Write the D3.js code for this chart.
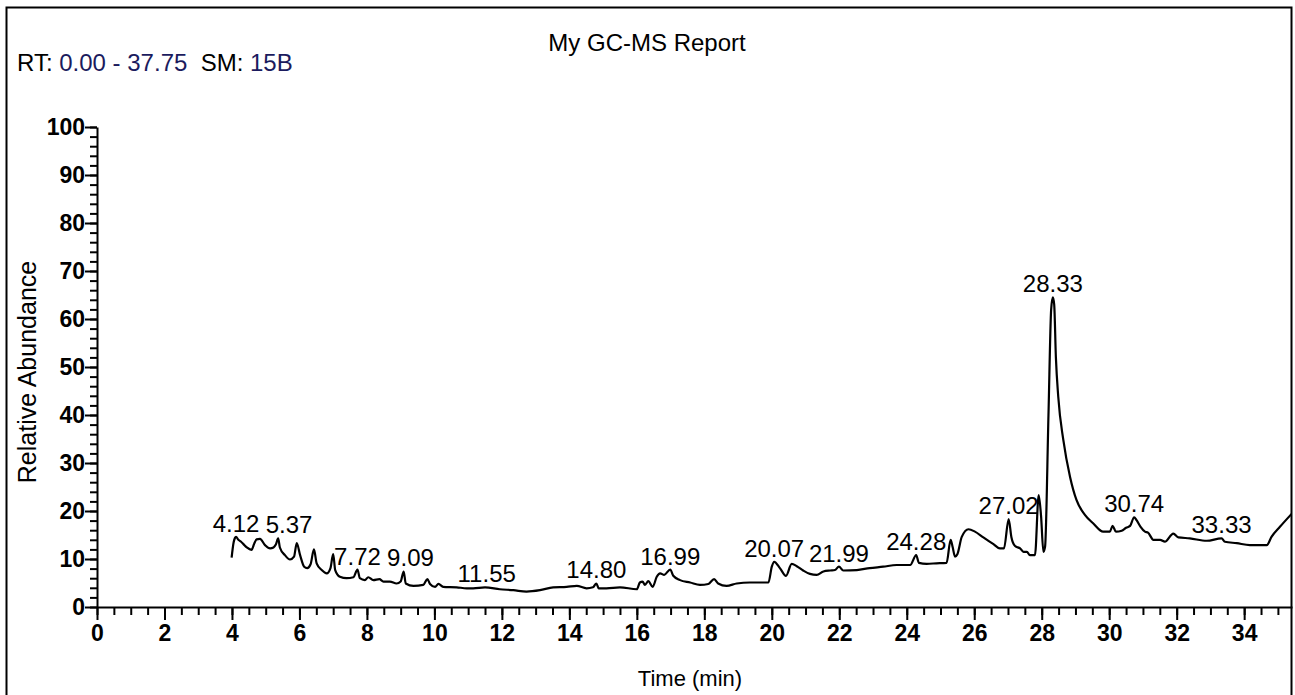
<!DOCTYPE html>
<html>
<head>
<meta charset="utf-8">
<script src="https://cdn.jsdelivr.net/npm/d3@7"></script>
<style>
  body { margin: 0; background: #fff; }
  text { font-family: "Liberation Sans", Arial, sans-serif; }
</style>
</head>
<body>
<div id="chart"></div>
<script>
// chromatogram trace
var times = [3.99, 4.05, 4.09, 4.12, 4.19, 4.27, 4.34, 4.44, 4.58, 4.66, 4.73, 4.83, 4.98, 5.13, 5.23, 5.30, 5.37, 5.42,
  5.57, 5.72, 5.84, 5.92, 6.02, 6.14, 6.23, 6.33, 6.43, 6.51, 6.66, 6.81, 6.92, 7.00, 7.06, 7.20, 7.40, 7.60, 7.72, 7.79,
  7.94, 8.04, 8.19, 8.37, 8.49, 8.68, 8.88, 9.00, 9.09, 9.15, 9.38, 9.67, 9.79, 9.87, 10.02, 10.12, 10.26, 10.66, 10.96,
  11.15, 11.50, 11.94, 12.34, 12.73, 13.13, 13.52, 13.92, 14.22, 14.51, 14.70, 14.80, 14.87, 15.10, 15.50, 16.00, 16.09,
  16.17, 16.24, 16.34, 16.47, 16.59, 16.69, 16.81, 16.99, 17.08, 17.28, 17.58, 17.87, 18.12, 18.29, 18.41, 18.66, 18.96,
  19.35, 19.65, 19.90, 20.00, 20.07, 20.24, 20.42, 20.59, 20.74, 20.93, 21.13, 21.33, 21.53, 21.73, 21.87, 21.99, 22.12,
  22.52, 22.90, 23.30, 23.70, 24.10, 24.28, 24.36, 24.59, 24.88, 25.18, 25.30, 25.36, 25.43, 25.50, 25.63, 25.83, 26.02,
  26.27, 26.57, 26.76, 26.88, 27.02, 27.10, 27.21, 27.36, 27.46, 27.56, 27.65, 27.80, 27.91, 27.98, 28.05, 28.10, 28.20,
  28.28, 28.33, 28.37, 28.42, 28.49, 28.64, 28.84, 29.03, 29.28, 29.53, 29.82, 30.02, 30.10, 30.20, 30.37, 30.50, 30.62,
  30.74, 30.81, 30.93, 31.06, 31.15, 31.31, 31.51, 31.65, 31.90, 32.05, 32.39, 32.89, 33.33, 33.43, 33.78, 34.17, 34.67,
  34.81, 35.06, 35.42];
var abundance = [10.3, 13.5, 14.4, 14.6, 14.0, 13.6, 13.1, 12.4, 11.9, 13.2, 14.1, 14.2, 12.9, 12.2, 12.4, 13.0, 14.3, 12.4,
  10.8, 9.9, 10.5, 13.3, 10.8, 8.4, 8.1, 8.9, 12.0, 9.1, 7.7, 7.0, 8.1, 11.0, 7.7, 6.3, 6.0, 6.2, 7.8, 6.0,
  5.6, 6.2, 5.6, 5.8, 5.3, 5.3, 4.9, 5.3, 7.4, 4.9, 4.4, 4.6, 5.8, 4.8, 4.2, 4.8, 4.2, 4.1, 3.9,
  3.9, 4.1, 3.7, 3.5, 3.2, 3.5, 4.1, 4.2, 4.4, 3.9, 4.1, 4.9, 3.9, 3.9, 4.1, 3.7, 5.1,
  5.3, 4.6, 5.4, 4.2, 6.3, 7.0, 6.7, 7.8, 6.5, 5.6, 5.1, 4.6, 4.8, 5.8, 4.9, 4.4, 4.9,
  5.1, 5.1, 5.1, 8.4, 9.4, 8.1, 6.5, 9.0, 8.5, 7.6, 6.9, 6.7, 7.4, 7.6, 7.7, 8.4, 7.6,
  7.7, 8.1, 8.4, 8.75, 8.75, 10.8, 9.2, 9.0, 9.1, 9.2, 14.0, 12.5, 10.5, 11.0, 14.6, 16.2, 15.7,
  14.5, 13.1, 12.2, 12.2, 18.3, 14.6, 12.7, 12.2, 11.5, 11.5, 10.8, 10.8, 23.3, 19.0, 11.5, 12.6, 40.0,
  62.0, 64.5, 63.0, 52.0, 43.8, 34.8, 27.1, 22.3, 19.2, 17.4, 15.7, 15.7, 16.9, 15.7, 15.9, 16.5, 16.9,
  18.7, 18.1, 16.7, 15.7, 15.5, 14.0, 14.0, 13.6, 15.3, 14.5, 14.3, 13.8, 14.3, 13.6, 13.3, 12.9, 12.9,
  14.6, 16.7, 19.5];

// labelled peaks (retention times)
var peakTimes = [4.12, 5.37, 7.72, 9.09, 11.55, 14.80, 16.99, 20.07, 21.99, 24.28, 27.02, 28.33, 30.74, 33.33];

var xMajor = d3.range(0, 35, 2);
var yMajor = d3.range(0, 101, 10);

var width = 1295, height = 695;
var margin = { top: 127, right: 3, bottom: 88, left: 97 };

var svg = d3.select("#chart").append("svg")
    .attr("width", width)
    .attr("height", height);

// outer frame
svg.append("rect")
    .attr("x", 6.5).attr("y", 7.5)
    .attr("width", 1285).attr("height", 700)
    .attr("fill", "none")
    .attr("stroke", "#000")
    .attr("stroke-width", 2);

svg.append("text")
    .attr("x", 647).attr("y", 51)
    .attr("text-anchor", "middle")
    .style("font-size", "24px")
    .text("My GC-MS Report");

var rt = svg.append("text")
    .attr("x", 17).attr("y", 71)
    .style("font-size", "24px")
    .attr("xml:space", "preserve");
rt.append("tspan").text("RT: ");
rt.append("tspan").attr("fill", "#1b1b5e").text("0.00 - 37.75");
rt.append("tspan").text("  SM: ");
rt.append("tspan").attr("fill", "#1b1b5e").text("15B");

var x = d3.scaleLinear()
    .domain([0, (width - margin.right - margin.left) / 33.74])
    .range([margin.left, width - margin.right]);

var y = d3.scaleLinear()
    .domain([0, 100])
    .range([height - margin.bottom, margin.top]);

var x0 = margin.left, y0 = height - margin.bottom;

// minor ticks
svg.append("g")
    .attr("transform", "translate(0," + y0 + ")")
    .call(d3.axisBottom(x).tickValues(d3.range(0, x.domain()[1], 0.5)).tickSize(8).tickFormat(""))
    .call(g => g.select(".domain").remove())
    .selectAll("line").attr("stroke-width", 2);

svg.append("g")
    .attr("transform", "translate(" + x0 + ",0)")
    .call(d3.axisLeft(y).tickValues(d3.range(0, 101, 2)).tickSize(7).tickFormat(""))
    .call(g => g.select(".domain").remove())
    .selectAll("line").attr("stroke-width", 2);

// major ticks + labels
var xAxis = svg.append("g")
    .attr("transform", "translate(0," + y0 + ")")
    .call(d3.axisBottom(x).tickValues(xMajor).tickSize(13).tickPadding(5).tickSizeOuter(0));
xAxis.select(".domain").attr("stroke-width", 2);
xAxis.selectAll("line").attr("stroke-width", 2);
xAxis.selectAll("text")
    .style("font-size", "23px").style("font-weight", "bold")
    .attr("fill", "#000");

var yAxis = svg.append("g")
    .attr("transform", "translate(" + x0 + ",0)")
    .call(d3.axisLeft(y).tickValues(yMajor).tickSize(12).tickPadding(0).tickSizeOuter(0));
yAxis.select(".domain").attr("stroke-width", 2);
yAxis.selectAll("line").attr("stroke-width", 2);
yAxis.selectAll("text")
    .style("font-size", "23px").style("font-weight", "bold")
    .attr("fill", "#000");

svg.append("text")
    .attr("x", 690).attr("y", 686)
    .attr("text-anchor", "middle")
    .style("font-size", "22px")
    .text("Time (min)");

svg.append("text")
    .attr("transform", "translate(36,372) rotate(-90)")
    .attr("text-anchor", "middle")
    .style("font-size", "25px")
    .text("Relative Abundance");

// trace
var data = times.map((t, i) => ({ t: t, v: abundance[i] }));

svg.append("clipPath").attr("id", "clip")
    .append("rect")
    .attr("x", x0).attr("y", 0)
    .attr("width", width - margin.right - x0).attr("height", y0);

svg.append("path")
    .datum(data)
    .attr("clip-path", "url(#clip)")
    .attr("fill", "none")
    .attr("stroke", "#000")
    .attr("stroke-width", 2.2)
    .attr("stroke-linejoin", "round")
    .attr("d", d3.line().x(d => x(d.t)).y(d => y(d.v)).curve(d3.curveMonotoneX));

// peak labels sit just above the local apex; push the later one right when they collide
var labels = peakTimes.map(function(t) {
    var near = data.filter(p => Math.abs(p.t - t) <= 0.1);
    return { t: t, cx: x(t), by: y(d3.max(near, p => p.v)) - 5 };
});
var labelW = 47, gap = 6;
for (var i = 1; i < labels.length; i++) {
    var a = labels[i - 1], b = labels[i];
    var overlap = labelW + gap - (b.cx - a.cx);
    if (overlap > 0 && Math.abs(a.by - b.by) < 24) {
        b.cx += overlap;
    }
}

svg.append("g")
    .selectAll("text")
    .data(labels)
    .enter().append("text")
    .attr("x", d => d.cx)
    .attr("y", d => d.by)
    .attr("text-anchor", "middle")
    .style("font-size", "24px")
    .text(d => d.t.toFixed(2));
</script>
</body>
</html>
